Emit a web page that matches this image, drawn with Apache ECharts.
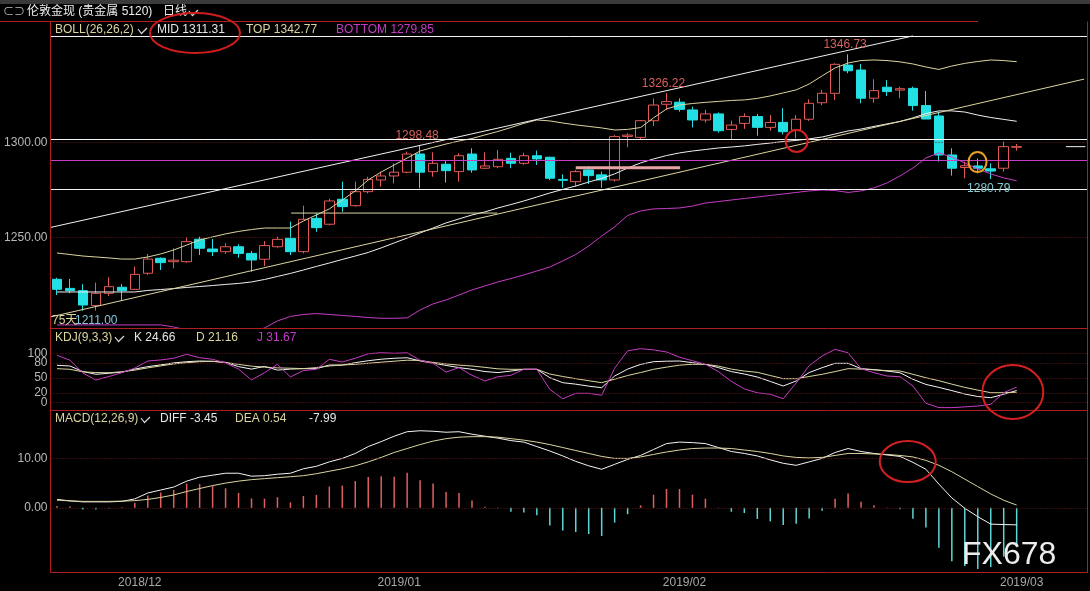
<!DOCTYPE html>
<html><head><meta charset="utf-8">
<script src="https://cdn.jsdelivr.net/npm/echarts@6.0.0/dist/echarts.min.js"></script>
<style>html,body{margin:0;padding:0;background:#000;}#c{width:1090px;height:591px;}</style>
</head><body><div id="c"></div>
<script>
// ---------------- DATA ----------------
const dates = ['2018/11/23','2018/11/26','2018/11/27','2018/11/28','2018/11/29','2018/11/30',
'2018/12/03','2018/12/04','2018/12/05','2018/12/06','2018/12/07','2018/12/10','2018/12/11','2018/12/12','2018/12/13','2018/12/14',
'2018/12/17','2018/12/18','2018/12/19','2018/12/20','2018/12/21','2018/12/24','2018/12/26','2018/12/27','2018/12/28','2018/12/31',
'2019/01/02','2019/01/03','2019/01/04','2019/01/07','2019/01/08','2019/01/09','2019/01/10','2019/01/11',
'2019/01/14','2019/01/15','2019/01/16','2019/01/17','2019/01/18','2019/01/21','2019/01/22','2019/01/23','2019/01/24','2019/01/25',
'2019/01/28','2019/01/29','2019/01/30','2019/01/31','2019/02/01','2019/02/04','2019/02/05','2019/02/06','2019/02/07','2019/02/08',
'2019/02/11','2019/02/12','2019/02/13','2019/02/14','2019/02/15','2019/02/18','2019/02/19','2019/02/20','2019/02/21','2019/02/22',
'2019/02/25','2019/02/26','2019/02/27','2019/02/28','2019/03/01','2019/03/04','2019/03/05','2019/03/06','2019/03/07','2019/03/08','2019/03/11'];
const padDates = ['2019/03/12','2019/03/13','2019/03/14','2019/03/15','2019/03/18'];

const openP = [1227.8,1223.0,1221.8,1213.9,1220.4,1223.6,1222.5,1231.0,1238.9,1237.1,
1237.1,1249.0,1243.8,1242.4,1245.0,1241.5,1238.4,1245.0,1249.5,1242.4,
1260.0,1256.9,1270.1,1266.7,1274.1,1280.3,1282.4,1284.4,1294.0,1284.7,
1288.6,1284.7,1294.0,1286.5,1287.3,1291.7,1289.1,1293.1,1292.3,1280.6,
1279.4,1285.6,1283.0,1280.3,1303.3,1302.8,1311.6,1320.3,1321.4,1317.3,
1312.0,1315.2,1307.0,1310.2,1313.8,1308.1,1310.7,1306.7,1312.4,1321.1,
1326.1,1341.0,1338.4,1323.5,1329.3,1327.8,1328.7,1319.6,1314.1,1293.5,
1286.9,1287.7,1286.2,1286.5,1297.6];
const closeP = [1222.5,1221.8,1214.2,1220.4,1223.9,1221.8,1230.4,1238.5,1236.6,1237.9,
1247.7,1244.2,1242.4,1245.0,1241.5,1238.0,1245.6,1248.9,1242.4,1259.5,
1255.1,1269.2,1266.2,1274.1,1280.6,1282.4,1284.4,1294.0,1284.4,1289.1,
1285.2,1293.1,1285.6,1287.7,1291.2,1289.1,1293.1,1291.4,1281.2,1280.1,
1284.7,1282.6,1280.3,1303.2,1304.0,1311.6,1319.9,1321.7,1317.6,1312.0,
1315.2,1306.3,1309.3,1313.8,1308.1,1310.7,1305.8,1312.4,1320.8,1326.1,
1341.4,1338.0,1323.5,1327.5,1327.0,1328.5,1319.6,1312.5,1293.5,1286.5,
1287.8,1286.5,1285.0,1297.9,1297.9];
const lowP = [1219.5,1220.4,1211.2,1211.2,1219.0,1216.5,1222.1,1230.1,1232.7,1233.6,
1236.6,1240.6,1240.1,1241.2,1239.2,1231.8,1234.8,1244.5,1240.6,1241.5,
1252.9,1256.3,1263.5,1266.2,1273.2,1276.8,1278.5,1283.8,1275.9,1282.0,
1278.9,1279.4,1284.1,1286.1,1286.5,1286.5,1288.2,1288.2,1280.3,1276.2,
1276.8,1278.2,1276.2,1279.4,1297.6,1301.9,1308.8,1317.3,1316.4,1308.1,
1310.6,1305.3,1301.8,1307.3,1303.7,1306.3,1304.4,1302.3,1311.5,1319.9,
1322.6,1336.7,1320.8,1321.1,1324.7,1323.5,1316.9,1312.5,1290.0,1282.6,
1281.2,1283.8,1280.79,1284.7,1295.8];
const highP = [1228.6,1228.0,1225.2,1226.0,1228.9,1225.3,1234.5,1241.2,1239.4,1244.2,
1250.0,1250.3,1249.1,1246.8,1246.3,1242.8,1248.0,1250.3,1258.3,1266.7,
1262.7,1270.4,1279.4,1279.4,1282.0,1284.7,1289.1,1295.3,1298.48,1294.9,
1290.3,1294.4,1297.0,1294.9,1296.1,1294.7,1294.7,1295.8,1292.6,1283.3,
1285.6,1287.7,1284.7,1304.0,1305.0,1312.0,1323.4,1326.22,1323.4,1319.0,
1317.3,1316.0,1311.6,1315.5,1315.2,1314.6,1318.2,1314.6,1322.9,1327.9,
1342.0,1346.73,1341.6,1333.5,1333.1,1329.6,1329.6,1327.3,1316.4,1297.0,
1290.0,1291.7,1289.1,1300.5,1299.3];

const bollMid = [1221.1,1221.1,1221.1,1221.1,1221.1,1221.1,1221.1,1221.9,1222.4,1222.9,
1223.5,1224.0,1224.5,1225.1,1225.6,1226.4,1227.7,1229.3,1230.9,1232.7,
1234.6,1236.4,1238.3,1240.1,1242.0,1244.4,1247.0,1249.6,1252.3,1254.9,
1257.6,1259.7,1261.8,1263.4,1265.5,1267.3,1269.2,1271.3,1273.4,1275.3,
1277.1,1279.2,1281.1,1283.5,1286.6,1289.3,1291.4,1293.2,1294.6,1295.6,
1296.4,1297.2,1297.7,1298.3,1299.1,1299.8,1300.6,1301.2,1302.0,1303.0,
1304.6,1306.2,1307.2,1308.6,1309.9,1311.2,1313.1,1315.4,1316.8,1316.8,
1316.2,1314.6,1313.3,1312.3,1311.31];
const bollTop = [1241.7,1240.9,1240.1,1239.6,1239.1,1238.5,1238.5,1239.6,1241.2,1243.3,
1245.9,1248.6,1250.2,1251.8,1253.1,1254.1,1254.9,1254.9,1254.9,1258.6,
1261.8,1265.0,1269.7,1274.5,1280.3,1284.5,1288.2,1291.9,1295.6,1297.5,
1299.3,1300.9,1302.2,1304.1,1305.9,1308.0,1310.2,1312.0,1311.5,1310.4,
1309.4,1308.6,1307.8,1306.7,1307.0,1308.0,1313.1,1317.8,1319.9,1320.7,
1321.3,1321.8,1322.3,1322.6,1323.4,1324.7,1326.3,1327.9,1331.0,1335.3,
1339.5,1342.1,1343.4,1343.7,1343.4,1342.7,1341.6,1340.0,1338.7,1340.5,
1341.9,1342.9,1343.7,1343.4,1342.77];
const bollBottom = [1203.7,1203.7,1203.7,1203.7,1203.7,1203.7,1203.7,1203.7,1203.7,1202.6,
1201.0,1200.0,1198.9,1198.4,1198.4,1199.4,1202.1,1205.8,1208.2,1209.2,
1209.7,1209.2,1208.7,1208.2,1207.6,1207.2,1207.2,1207.4,1211.6,1214.8,
1216.9,1219.5,1222.2,1224.3,1226.4,1228.2,1230.1,1232.2,1234.3,1237.5,
1240.9,1245.4,1250.7,1255.5,1261.5,1263.9,1265.0,1265.2,1265.5,1266.5,
1268.1,1268.9,1269.7,1270.5,1271.3,1272.1,1272.9,1273.7,1274.5,1275.0,
1274.7,1273.7,1274.5,1276.1,1278.7,1282.4,1286.6,1291.9,1294.6,1292.4,
1289.3,1286.1,1283.5,1281.4,1279.85];

const kdjK = [75.7,74.3,63,57.5,59.5,62,68,73,76.5,80.5,
83,84.4,83.8,81.5,73,68,73.5,66,68,68.9,
68.9,76.3,76.3,81,85,88,90,91,84.5,80,
75.5,71,67.6,63,61,64,67.6,67.6,50.6,40.5,
37.5,33.5,30.4,54,68,77.5,83,84,84.4,81,
77.7,71,63,58,52,43,33.8,44,61,70.9,
79.7,79.7,68.9,67,64,60.7,47.4,37,31,24.5,
17.5,12.5,10.1,17,24.66];
const kdjD = [68.9,67.6,62.5,61,60.7,62.5,66,70.5,74.5,78.5,
81,83,83.7,81.5,77.5,74,72,70.5,69.8,69,
71,74.3,76.2,77.7,79.8,82,84,86,85.5,81.5,
78.5,76,74.3,71.5,68.5,67.6,67.6,67.6,58,53,
48.6,44.5,40.5,47.5,55,61,67.6,72,76,77.7,
77.7,74,68,64,61.5,55,48.6,48.6,53,57.5,
63,68.9,68,66.5,65,64.2,57.5,50.5,44.5,37.5,
31,25.5,20.2,20.2,21.16];
const kdjJ = [95.9,86,60,46,53,60.7,70,84.4,86.5,90,
98,91.1,87.8,80.5,68,46,60.7,77.7,52,65,
67.6,87.8,82.4,90,99,101.2,100,101,86,79.7,
62,71,55.4,44,52.6,55.4,67.6,67.6,27,8,
19,19,15,70,105,109.3,107,102.6,92,85,
77.7,63,43,28,20,17,8.1,40,75,94.5,
108,101,68.9,60.7,54,52.6,33.8,-1.2,-10,-10,
-8.5,-6.7,-3.3,20.2,31.67];

const macdDiff = [1.7,1.4,1.2,1.2,1.2,1.3,1.8,3.0,3.6,4.2,
5.4,6.2,6.6,7.0,7.0,6.4,6.5,6.8,7.0,7.9,
8.4,9.3,10.0,11.0,12.4,13.4,14.5,15.4,15.6,15.5,
15.3,15.4,14.9,14.5,14.1,13.6,13.3,12.4,11.5,10.5,
9.4,8.5,7.8,8.8,9.8,10.6,11.8,13.0,13.3,13.2,
13.0,12.2,11.4,11.0,10.5,9.7,9.0,8.6,9.3,10.0,
11.2,12.0,11.4,11.0,10.7,10.4,9.2,7.8,4.8,2.0,
-0.1,-1.8,-3.3,-3.4,-3.45];
const macdDea = [1.55,1.4,1.3,1.3,1.3,1.35,1.45,1.7,2.1,2.6,
3.3,3.9,4.5,5.0,5.4,5.7,5.9,6.1,6.3,6.5,
6.9,7.4,7.9,8.5,9.3,10.2,11.2,12.0,12.8,13.5,
14.0,14.3,14.4,14.4,14.3,14.0,13.7,13.3,12.8,12.2,
11.6,11.0,10.4,10.0,10.0,10.3,10.8,11.3,11.7,12.0,
12.1,12.1,12.0,11.7,11.4,11.0,10.5,10.2,10.1,10.2,
10.6,11.0,11.0,10.9,10.8,10.6,10.3,9.6,8.6,7.3,
5.8,4.3,2.8,1.54,0.54];
const macdHist = [0.35,0.3,-0.33,-0.33,-0.1,0.1,1.0,2.5,3.1,3.6,
4.9,4.8,4.4,3.95,3.0,1.9,1.85,2.15,1.1,2.4,
2.6,4.3,4.5,5.4,6.25,6.4,6.3,7.1,5.6,4.9,
3.2,3.0,1.5,0.2,-0.1,-0.8,-0.95,-1.5,-3.6,-4.6,
-4.9,-5.3,-5.7,-3.0,-1.3,0.5,2.65,3.8,3.8,2.65,
1.85,0.05,-0.8,-1.05,-2.25,-2.75,-3.5,-3.25,-2.15,-0.6,
1.85,2.9,1.2,0.5,0.05,-0.3,-2.2,-4.0,-8.1,-10.8,
-11.8,-12.4,-12.0,-9.9,-7.99];

// tick labels
const monthTickIdx = [6, 26, 48, 74];
const monthTickText = ['2018/12', '2019/01', '2019/02', '2019/03'];
const priceTicks = [1250, 1300];
const kdjTicks = [0, 20, 50, 80, 100];
const macdTicks = [0, 10];

// drawn annotations (day index, price)
const whiteHLines = [1356.4, 1301.8, 1275.4];
const magentaHLines = [1290.5];
const trendUpper = [[-0.5, 1255.2], [66.0, 1356.4]];
const trendLower = [[-0.5, 1207.9], [79.2, 1333.6]];
const segBeige = [[18.05, 1262.8], [33.95, 1262.8]];
const segPink = [[40.0, 1286.8], [48.05, 1286.8]];
const segPrice = [[77.8, 1297.9], [79.3, 1297.9]];
const markedHighIdx = [28, 47, 61];
const markedLowIdx = [72];

// ---------------- CHART ----------------
const allDates = dates.concat(padDates);
const nCat = allDates.length;
const candleData = dates.map((d, i) => [openP[i], closeP[i], lowP[i], highP[i]]);

const RED = '#e35a58', CYAN = '#22e0e4', BEIGE = '#dcd5a0', WHITE = '#efefef', MAG = '#c63ec6';
const GRIDRED = '#6e1616', FRAME = '#b01e1e';
const FONT = '"Liberation Sans","Noto Sans CJK SC",Arial,sans-serif';
const L = 50.5, W = 1037.5;

const grids = [
  {left: L, top: 21, width: W, height: 307.5},
  {left: L, top: 328.5, width: W, height: 81.5},
  {left: L, top: 410, width: W, height: 162.5}
];
function catAxis(g, withLabel) {
  return {type: 'category', gridIndex: g, data: allDates, boundaryGap: true,
    axisLine: {show: false}, axisTick: {show: false}, splitLine: {show: false},
    axisLabel: withLabel ? {
      show: true, color: '#a8a8a8', fontSize: 12, fontFamily: FONT, margin: 4,
      padding: [0, 0, 0, 10], hideOverlap: false,
      interval: (idx) => monthTickIdx.indexOf(idx) >= 0,
      formatter: (v, idx) => { const k = monthTickIdx.indexOf(idx); return k >= 0 ? monthTickText[k] : ''; }
    } : {show: false}};
}
function valXAxis(g) {
  return {type: 'value', gridIndex: g, min: -0.5, max: nCat - 0.5, show: false, splitLine: {show: false}};
}
function yAx(g, min, max, ticks, fmt, showLabels) {
  return {type: 'value', gridIndex: g, min: min, max: max, scale: true,
    axisLine: {show: false}, axisTick: {show: false}, splitLine: {show: false},
    axisLabel: {show: showLabels, customValues: ticks, formatter: fmt, color: '#b8b8b8', fontSize: 12, fontFamily: FONT,
      margin: 3, hideOverlap: false}};
}
function dotted(vals) {
  return vals.map(v => ({yAxis: v, lineStyle: {type: [1, 2], color: GRIDRED, width: 1}}));
}
function lineS(name, xi, yi, data, color, width) {
  return {name: name, type: 'line', xAxisIndex: xi, yAxisIndex: yi, data: data, showSymbol: false, symbol: 'none',
    silent: true, lineStyle: {color: color, width: width || 1}, z: 3};
}

const option = {
  backgroundColor: '#000',
  animation: false,
  grid: grids,
  xAxis: [catAxis(0, false), catAxis(1, false), catAxis(2, true), valXAxis(0)],
  yAxis: [
    yAx(0, 1201.8, 1364.3, priceTicks, v => v.toFixed(2), true),
    yAx(1, -14.8, 150.2, kdjTicks, v => String(v), false),
    yAx(2, -13.1, 19.8, macdTicks, v => v.toFixed(2), true)
  ],
  series: [
    {type: 'candlestick', xAxisIndex: 0, yAxisIndex: 0, data: candleData, barWidth: 10, z: 2,
      itemStyle: {color: '#000', color0: CYAN, borderColor: RED, borderColor0: CYAN, borderWidth: 1},
      markLine: {silent: true, symbol: 'none', label: {show: false}, animation: false,
        data: dotted(priceTicks)
          .concat(whiteHLines.map(v => ({yAxis: v, lineStyle: {type: 'solid', color: '#f4f4f4', width: 1}})))
          .concat(magentaHLines.map(v => ({yAxis: v, lineStyle: {type: 'solid', color: MAG, width: 1.2}})))},
      markPoint: {symbol: 'rect', symbolSize: 1, itemStyle: {color: 'rgba(0,0,0,0)'}, animation: false,
        data: markedHighIdx.map(i => ({coord: [i, highP[i]], value: highP[i],
                label: {position: 'top', distance: 3, offset: [-3, 0], color: '#d8605c'}}))
          .concat(markedLowIdx.map(i => ({coord: [i, lowP[i]], value: lowP[i],
                label: {position: 'bottom', distance: 3, offset: [-2, 0], color: '#86c8d2'}}))),
        label: {show: true, fontSize: 12, fontFamily: FONT, formatter: p => Number(p.value).toFixed(2)}}
    },
    lineS('TOP', 0, 0, bollTop, BEIGE),
    lineS('MID', 0, 0, bollMid, WHITE),
    lineS('BOTTOM', 0, 0, bollBottom, MAG),
    lineS('trendU', 3, 0, trendUpper, '#f2f2f2'),
    lineS('trendL', 3, 0, trendLower, BEIGE),
    lineS('segB', 3, 0, segBeige, BEIGE),
    lineS('segP', 3, 0, segPink, '#e8a4a4', 3),
    lineS('segC', 3, 0, segPrice, '#f2f2f2'),
    Object.assign(lineS('K', 1, 1, kdjK, '#f4f4f4'), {markLine: {silent: true, symbol: 'none', label: {show: false}, animation: false, data: dotted(kdjTicks)}}),
    lineS('D', 1, 1, kdjD, BEIGE),
    lineS('J', 1, 1, kdjJ, MAG),
    {type: 'bar', xAxisIndex: 2, yAxisIndex: 2, barWidth: 1.5, silent: true, z: 2,
      data: macdHist.map(v => ({value: v, itemStyle: {color: v >= 0 ? '#e06060' : '#5ed6d8'}})),
      markLine: {silent: true, symbol: 'none', label: {show: false}, animation: false, data: dotted(macdTicks)}},
    lineS('DIFF', 2, 2, macdDiff, '#f4f4f4'),
    lineS('DEA', 2, 2, macdDea, BEIGE)
  ]
};

const chart = echarts.init(document.getElementById('c'), null, {renderer: 'canvas', width: 1090, height: 591});
chart.setOption(option);

function px(i, v, yi) {
  return [chart.convertToPixel({xAxisIndex: 3}, i), chart.convertToPixel({yAxisIndex: yi}, v)];
}
function txt(x, y, s, color, size, extra) {
  return Object.assign({type: 'text', x: x, y: y, z: 50, silent: true,
    style: {text: s, fill: color, font: (size || 12) + 'px ' + FONT,
      align: 'left', verticalAlign: 'middle', textAlign: 'left', textVerticalAlign: 'middle'}}, extra || {});
}
function rtxt(x, y, s, color) {
  return {type: 'text', x: x, y: y, z: 50, silent: true,
    style: {text: s, fill: color, font: '12px ' + FONT,
      align: 'right', verticalAlign: 'middle', textAlign: 'right', textVerticalAlign: 'middle'}};
}
function hline(x1, x2, y, color) {
  return {type: 'line', z: 40, silent: true, shape: {x1: x1, y1: y, x2: x2, y2: y}, style: {stroke: color, lineWidth: 1}};
}
function vline(x, y1, y2, color) {
  return {type: 'line', z: 40, silent: true, shape: {x1: x, y1: y1, x2: x, y2: y2}, style: {stroke: color, lineWidth: 1}};
}
function chevron(x, y) {
  return {type: 'polyline', z: 50, silent: true, shape: {points: [[x, y - 2], [x + 3.5, y + 2.5], [x + 9, y - 3]]},
    style: {stroke: '#d8d8d8', lineWidth: 1.2, fill: null}};
}
function ell(c, rx, ry, color) {
  return {type: 'ellipse', z: 60, silent: true, shape: {cx: c[0], cy: c[1], rx: rx, ry: ry},
    style: {fill: null, stroke: color, lineWidth: 2}};
}

const els = [
  {type: 'rect', z: 1, silent: true, shape: {x: 0, y: 0, width: 1090, height: 4}, style: {fill: '#3a3a3a'}},
  txt(3, 12, '⊂⊃', '#bdbdbd', 11),
  txt(27, 12, '伦敦金现 (贵金属 5120)', '#ededed', 12),
  txt(163, 12, '日线', '#ededed', 12),
  chevron(189, 13),
  hline(0, 978, 21.5, FRAME),
  vline(50.5, 21.5, 572.5, FRAME),
  vline(1087.5, 21.5, 572.5, FRAME),
  hline(50.5, 1088, 328.5, FRAME),
  hline(50.5, 1088, 410.5, FRAME),
  hline(50.5, 1088, 572.5, FRAME),
  // BOLL legend
  txt(55, 30, 'BOLL(26,26,2)', BEIGE, 12), chevron(138, 31),
  txt(157, 30, 'MID 1311.31', '#e6e6e6', 12),
  txt(246, 30, 'TOP 1342.77', BEIGE, 12),
  txt(336, 30, 'BOTTOM 1279.85', '#c43cc4', 12),
  // KDJ legend
  txt(55, 338, 'KDJ(9,3,3)', BEIGE, 12), chevron(115, 339),
  txt(134, 338, 'K 24.66', '#e6e6e6', 12),
  txt(196, 338, 'D 21.16', BEIGE, 12),
  txt(257, 338, 'J 31.67', '#c43cc4', 12),
  // MACD legend
  txt(55, 419, 'MACD(12,26,9)', BEIGE, 12), chevron(141, 420),
  txt(160, 419, 'DIFF -3.45', '#e6e6e6', 12),
  txt(235, 419, 'DEA 0.54', BEIGE, 12),
  txt(309, 419, '-7.99', '#e6e6e6', 12),
  // bottom-left main text
  txt(52, 321, '75天', BEIGE, 12),
  txt(75, 321, '1211.00', '#7fc8dc', 12),
  // watermark
  txt(962, 555, 'FX678', '#ececec', 32),
  // hand-drawn annotations
  ell([195, 33], 45, 20, '#cf1c1c'),
  ell(px(57.03, 1300.9, 0), 11, 11, '#d42020'),
  ell(px(70.98, 1289.8, 0), 9, 10, '#e8a020'),
  ell(px(73.7, 21.7, 1), 30.5, 27, '#d42020'),
  ell(px(65.6, 9.35, 2), 28, 20.5, '#d42020')
];
// KDJ axis labels (tight spacing, drawn at the axis positions of kdjTicks)
kdjTicks.forEach(v => els.push(rtxt(47.5, chart.convertToPixel({yAxisIndex: 1}, v), String(v), '#b8b8b8')));
chart.setOption({graphic: {elements: els}});
</script>
</body></html>
